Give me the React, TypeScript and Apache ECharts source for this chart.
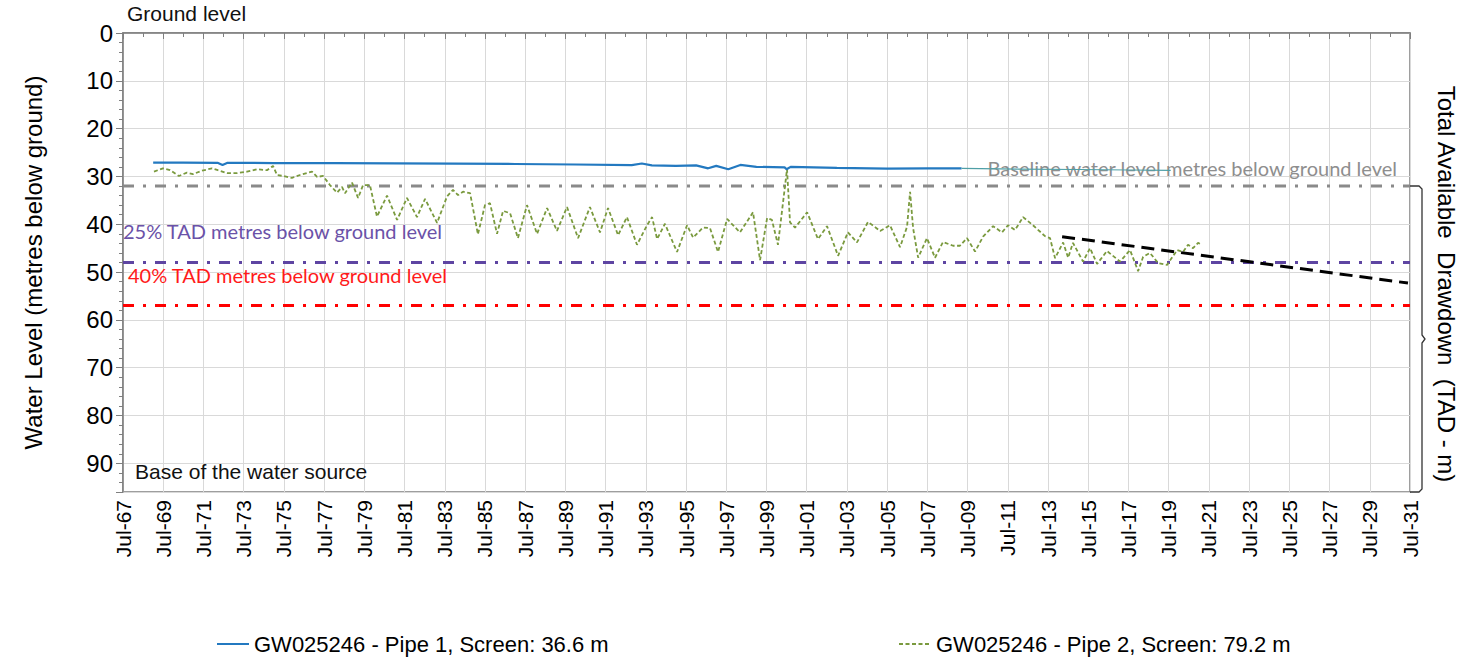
import React, { useEffect, useRef } from 'react';
import * as echarts from 'echarts';

// ---------- data ----------
const X_START_YEAR = 1967.5;
const X_END_YEAR = 2031.5;
const Y_MAX = 96;

const X_TICK_LABELS = [
  'Jul-67', 'Jul-69', 'Jul-71', 'Jul-73', 'Jul-75', 'Jul-77', 'Jul-79', 'Jul-81',
  'Jul-83', 'Jul-85', 'Jul-87', 'Jul-89', 'Jul-91', 'Jul-93', 'Jul-95', 'Jul-97',
  'Jul-99', 'Jul-01', 'Jul-03', 'Jul-05', 'Jul-07', 'Jul-09', 'Jul-11', 'Jul-13',
  'Jul-15', 'Jul-17', 'Jul-19', 'Jul-21', 'Jul-23', 'Jul-25', 'Jul-27', 'Jul-29', 'Jul-31',
];

const PIPE1_NAME = 'GW025246 - Pipe 1, Screen: 36.6 m';
const PIPE2_NAME = 'GW025246 - Pipe 2, Screen: 79.2 m';

const PIPE1_YEARS = [
  1969.0, 1970.5, 1972.2, 1972.45, 1972.7, 1975.0, 1978.0, 1981.0, 1984.0, 1987.0,
  1990.0, 1992.8, 1993.3, 1993.8, 1995.0, 1996.0, 1996.6, 1997.0, 1997.6, 1998.2,
  1999.0, 2000.4, 2000.5, 2000.7, 2003.0, 2005.5, 2007.5, 2009.2,
];
const PIPE1_LEVELS = [
  27.1, 27.1, 27.15, 27.6, 27.15, 27.2, 27.2, 27.25, 27.3, 27.4,
  27.5, 27.65, 27.3, 27.7, 27.8, 27.7, 28.3, 27.8, 28.5, 27.6,
  28.0, 28.1, 28.5, 28.0, 28.2, 28.35, 28.3, 28.3,
];

const PIPE1_LATE_YEARS = [2009.2, 2012.0, 2015.0, 2017.5, 2019.6];
const PIPE1_LATE_LEVELS = [28.3, 28.45, 28.55, 28.65, 28.75];

const PIPE2_YEARS = [
  1969.04, 1969.49, 1969.84, 1970.28, 1970.68, 1970.98, 1971.43, 1971.93, 1972.22, 1972.67,
  1973.17, 1973.67, 1974.16, 1974.66, 1974.96, 1975.16, 1975.46, 1975.9, 1976.3, 1976.9,
  1977.15, 1977.45, 1977.79, 1978.14, 1978.39, 1978.54, 1978.89, 1979.19, 1979.44, 1979.78,
  1980.13, 1980.63, 1981.13, 1981.62, 1982.12, 1982.52, 1983.12, 1983.61, 1983.91, 1984.16,
  1984.41, 1984.76, 1985.15, 1985.5, 1985.75, 1986.1, 1986.4, 1986.75, 1987.14, 1987.59,
  1988.09, 1988.59, 1989.08, 1989.58, 1990.13, 1990.72, 1991.22, 1991.62, 1992.12, 1992.56,
  1993.06, 1993.56, 1993.81, 1994.06, 1994.45, 1995.05, 1995.55, 1995.85, 1996.34, 1996.69,
  1997.09, 1997.54, 1998.18, 1998.83, 1999.18, 1999.53, 1999.77, 2000.07, 2000.52, 2000.67,
  2000.92, 2001.52, 2002.06, 2002.51, 2003.06, 2003.55, 2004.0, 2004.55, 2005.15, 2005.64,
  2006.14, 2006.49, 2006.64, 2006.79, 2007.04, 2007.48, 2007.88, 2008.28, 2008.78, 2009.12,
  2009.47, 2009.87, 2010.27, 2010.77, 2011.21, 2011.51, 2011.86, 2012.26, 2012.75, 2013.35,
  2013.6, 2013.85, 2014.25, 2014.5, 2014.74, 2015.24, 2015.59, 2015.94, 2016.43, 2017.08,
  2017.58, 2017.98, 2018.23, 2018.57, 2018.97, 2019.42, 2019.92, 2020.21, 2020.46, 2020.71,
  2020.96, 2021.16,
];
const PIPE2_LEVELS = [
  29.0, 28.3, 28.7, 29.9, 29.2, 29.5, 28.8, 28.3, 28.7, 29.3,
  29.3, 29.0, 28.5, 28.7, 27.8, 29.7, 29.9, 30.3, 29.7, 29.0,
  30.1, 29.9, 31.8, 33.4, 32.2, 33.5, 31.3, 34.5, 31.8, 31.8,
  38.4, 34.0, 39.1, 34.5, 38.5, 34.7, 39.7, 34.2, 32.8, 33.9,
  33.2, 33.5, 42.1, 36.0, 35.6, 42.0, 37.2, 37.7, 42.9, 36.0,
  42.0, 36.6, 41.4, 36.4, 42.9, 36.4, 41.7, 36.6, 42.3, 38.5,
  44.3, 40.2, 38.5, 43.1, 39.9, 45.8, 40.2, 42.8, 40.7, 40.8,
  45.8, 38.9, 41.7, 37.5, 47.5, 38.7, 39.1, 44.3, 28.5, 39.6,
  40.7, 37.5, 43.1, 40.4, 46.6, 41.7, 43.8, 39.5, 41.4, 40.2,
  44.8, 40.5, 33.2, 40.8, 47.0, 42.9, 47.0, 43.7, 44.5, 44.5,
  42.9, 45.7, 42.6, 40.4, 41.7, 40.2, 41.2, 38.5, 40.2, 42.5,
  42.9, 47.1, 43.8, 47.0, 43.9, 47.8, 45.0, 48.3, 45.6, 47.8,
  45.4, 49.8, 46.8, 46.0, 48.1, 48.5, 45.4, 45.8, 44.3, 45.0,
  43.9, 44.3,
];

const TREND_YEARS = [2014.2, 2031.4];
const TREND_LEVELS = [42.6, 52.3];

const BASELINE_LEVEL = 32;
const TAD25_LEVEL = 48;
const TAD40_LEVEL = 57;

// ---------- helpers ----------
const toPoints = (years: number[], levels: number[]) =>
  years.map((y, i) => [y - X_START_YEAR, levels[i]]);

const X_SPAN = X_END_YEAR - X_START_YEAR;

const refLine = (level: number, color: string) => ({
  type: 'line',
  name: 'ref-' + level,
  data: [[0, level], [X_SPAN, level]],
  symbol: 'none',
  silent: true,
  lineStyle: { color, width: 3, type: [11, 9, 3, 9] },
  z: 2,
});

const FONT = '"Liberation Sans", Arial, sans-serif';
const CAL = 'Lato, "Open Sans", sans-serif';

const legendBase = {
  itemWidth: 32,
  itemHeight: 14,
  itemGap: 10,
  itemStyle: { opacity: 0 },
  textStyle: { fontSize: 22, fontFamily: FONT, color: '#000' },
};

export default function App() {
  const ref = useRef<HTMLDivElement>(null);

  useEffect(() => {
    document.body.style.margin = '0';
    if (!ref.current) return;
    const chart = echarts.init(ref.current, undefined, { renderer: 'svg' });

    const option: any = {
      animation: false,
      backgroundColor: '#ffffff',
      grid: {
        left: 123, top: 33, right: 49, bottom: 171,
        show: true, borderColor: '#7f7f7f', borderWidth: 1.5,
      },
      legend: [
        { ...legendBase, data: [PIPE1_NAME], left: 211, top: 628 },
        { ...legendBase, data: [PIPE2_NAME], left: 893, top: 628 },
      ],
      xAxis: {
        type: 'value', min: 0, max: X_SPAN, interval: 2,
        axisLine: { show: true, lineStyle: { color: '#7f7f7f', width: 1.5 } },
        axisTick: { show: true, length: 6, lineStyle: { color: '#7f7f7f' } },
        minorTick: { show: true, splitNumber: 2, length: 4, lineStyle: { color: '#7f7f7f' } },
        splitLine: { show: true, lineStyle: { color: '#d9d9d9', width: 1 } },
        axisLabel: {
          rotate: 90, margin: 8, fontSize: 21, fontFamily: FONT, color: '#000',
          formatter: (v: number) => X_TICK_LABELS[Math.round(v / 2)] ?? '',
        },
      },
      yAxis: {
        type: 'value', inverse: true, min: 0, max: Y_MAX, interval: 10,
        axisLine: { show: true, lineStyle: { color: '#7f7f7f', width: 1.5 } },
        axisTick: { show: true, length: 7, lineStyle: { color: '#7f7f7f' } },
        minorTick: { show: true, splitNumber: 5, length: 4, lineStyle: { color: '#7f7f7f' } },
        splitLine: { show: true, lineStyle: { color: '#d9d9d9', width: 1 } },
        axisLabel: {
          fontSize: 24, fontFamily: FONT, color: '#000', margin: 10,
          showMaxLabel: false,
        },
        name: 'Water Level (metres below ground)',
        nameLocation: 'middle', nameGap: 78,
        nameTextStyle: { fontSize: 24, fontFamily: FONT, color: '#000' },
      },
      series: [
        refLine(BASELINE_LEVEL, '#8a8a8a'),
        refLine(TAD25_LEVEL, '#5e45a2'),
        refLine(TAD40_LEVEL, '#ff0000'),
        {
          type: 'line', name: PIPE1_NAME, data: toPoints(PIPE1_YEARS, PIPE1_LEVELS),
          symbol: 'none', lineStyle: { color: '#2379c0', width: 2.2 },
          itemStyle: { color: '#2379c0' }, z: 4,
        },
        {
          type: 'line', name: 'Pipe 1 late', data: toPoints(PIPE1_LATE_YEARS, PIPE1_LATE_LEVELS),
          symbol: 'none', lineStyle: { color: '#4f9fa6', width: 1.2 }, z: 4,
        },
        {
          type: 'line', name: PIPE2_NAME, data: toPoints(PIPE2_YEARS, PIPE2_LEVELS),
          symbol: 'none', lineStyle: { color: '#7a9a3e', width: 1.8, type: [4, 2.5] },
          itemStyle: { color: '#7a9a3e' }, z: 3,
        },
        {
          type: 'line', name: 'trend', data: toPoints(TREND_YEARS, TREND_LEVELS),
          symbol: 'none', lineStyle: { color: '#000000', width: 3, type: [13, 7] }, z: 5,
        },
      ],
    };
    chart.setOption(option);

    const pTop = chart.convertToPixel({ gridIndex: 0 }, [X_SPAN, BASELINE_LEVEL]) as number[];
    const pBot = chart.convertToPixel({ gridIndex: 0 }, [X_SPAN, Y_MAX]) as number[];
    const xr = pTop[0];
    const yt = pTop[1];
    const yb = pBot[1];
    const ym = (yt + yb) / 2;

    chart.setOption({
      graphic: [
        {
          type: 'text', left: 127, top: 3,
          style: { text: 'Ground level', font: `21px ${FONT}`, fill: '#111' },
        },
        {
          type: 'text', left: 135, top: 461,
          style: { text: 'Base of the water source', font: `21px ${FONT}`, fill: '#111' },
        },
        {
          type: 'text', x: 1397, y: 168,
          style: {
            text: 'Baseline water level metres below ground level', font: `20px ${CAL}`,
            fill: '#8e8e8e', textAlign: 'right', textVerticalAlign: 'middle',
          },
        },
        {
          type: 'text', x: 123, y: 231,
          style: {
            text: '25% TAD metres below ground level', font: `20px ${CAL}`,
            fill: '#6b52a8', textAlign: 'left', textVerticalAlign: 'middle',
          },
        },
        {
          type: 'text', x: 128, y: 275,
          style: {
            text: '40% TAD metres below ground level', font: `20px ${CAL}`,
            fill: '#ff1a1a', textAlign: 'left', textVerticalAlign: 'middle',
          },
        },
        {
          type: 'polyline',
          shape: {
            points: [
              [xr, yt], [xr + 9, yt], [xr + 12, yt + 3], [xr + 12, ym - 4],
              [xr + 15, ym], [xr + 12, ym + 4], [xr + 12, yb - 3], [xr + 9, yb], [xr, yb],
            ],
          },
          style: { stroke: '#333', lineWidth: 1.3, fill: 'none' },
          silent: true,
        },
        {
          type: 'text', x: 1446, y: 284, rotation: -Math.PI / 2,
          style: {
            text: 'Total Available  Drawdown  (TAD - m)', font: `24px ${FONT}`,
            fill: '#000', textAlign: 'center', textVerticalAlign: 'middle',
          },
        },
      ],
    });

    return () => chart.dispose();
  }, []);

  return <div ref={ref} style={{ width: 1459, height: 663, overflow: 'hidden' }} />;
}
